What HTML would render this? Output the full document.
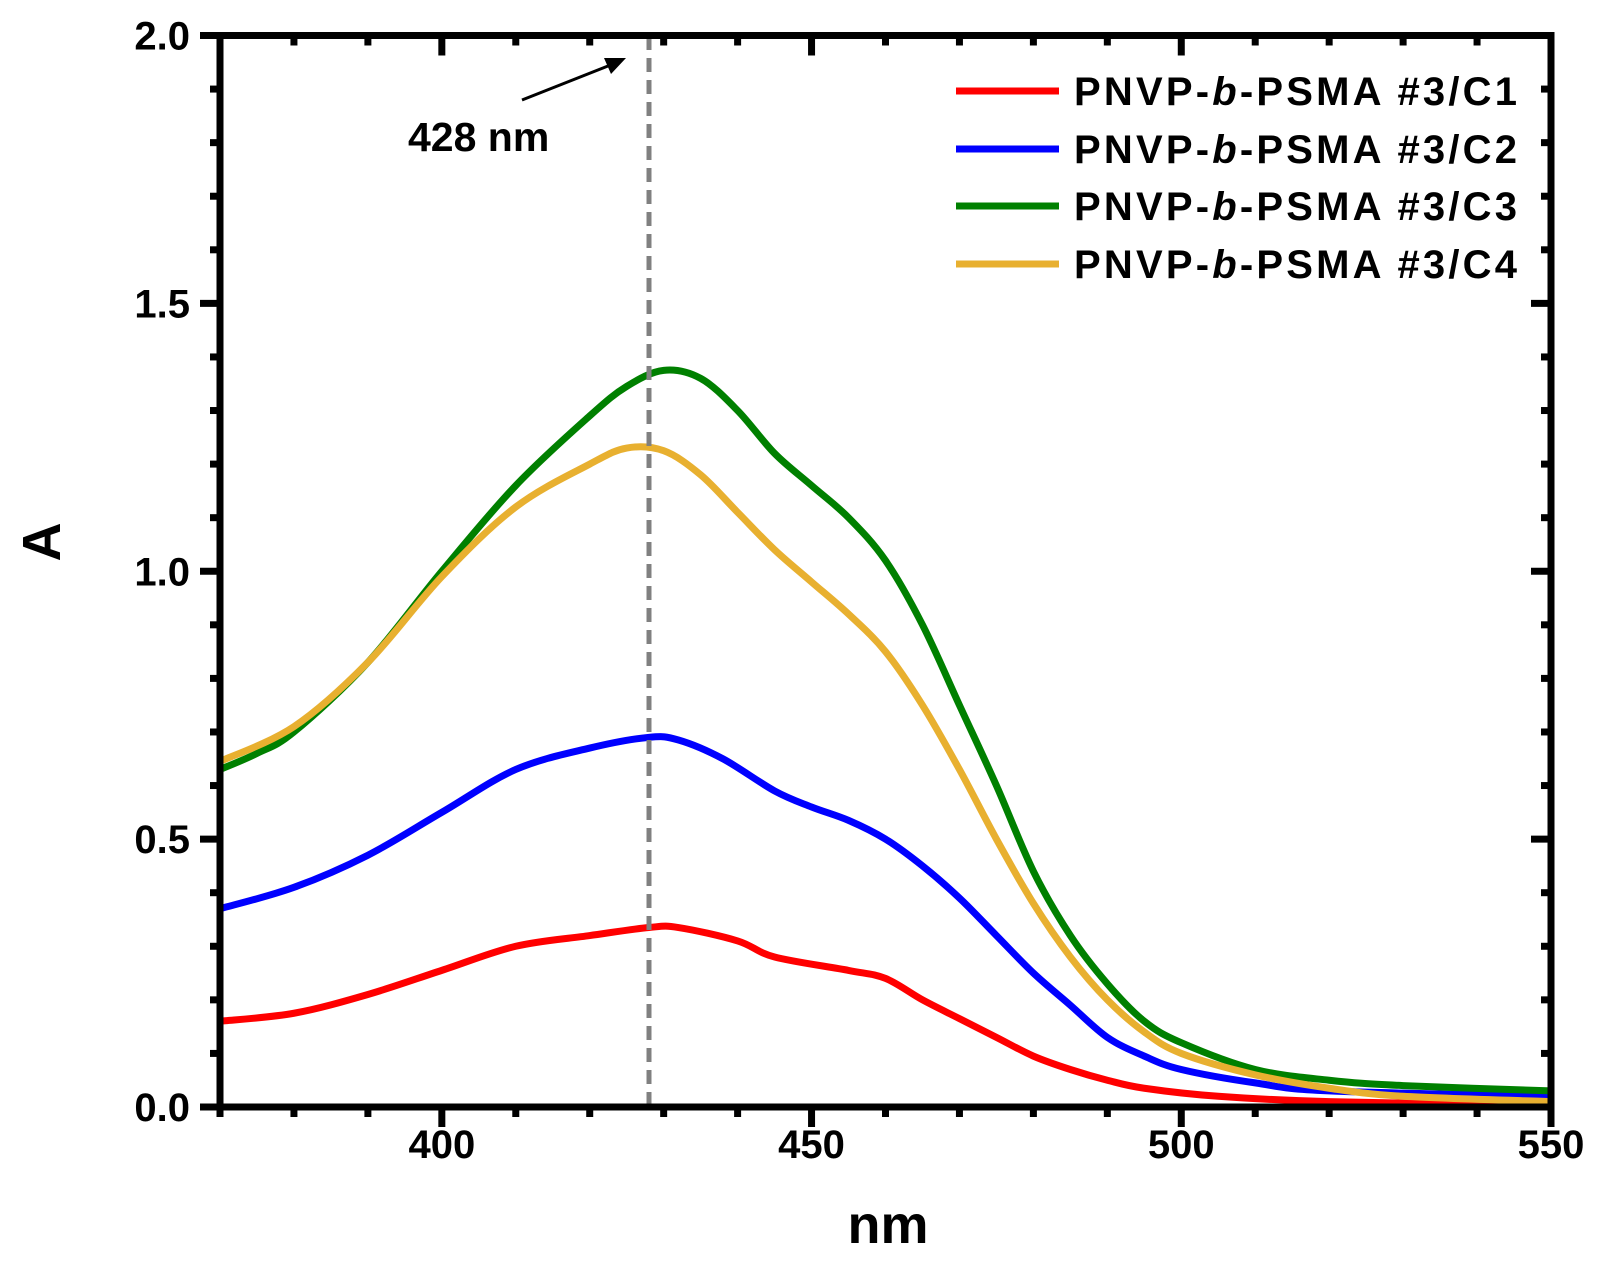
<!DOCTYPE html>
<html><head><meta charset="utf-8"><style>body{margin:0;background:#fff}svg{display:block}</style></head>
<body>
<svg id="s" width="1601" height="1285" xmlns="http://www.w3.org/2000/svg" font-family="Liberation Sans, Arial, sans-serif" font-weight="bold">
<g id="curves" fill="none" stroke-width="7" stroke-linejoin="round" stroke-linecap="round"></g>
<line x1="649" y1="36" x2="649" y2="1107" stroke="#808080" stroke-width="5" stroke-dasharray="14,8"/>
<g id="ticks" stroke="#000"></g>
<rect x="220" y="35.5" width="1331" height="1071.5" fill="none" stroke="#000" stroke-width="7"/>
<line x1="522" y1="100" x2="608" y2="66" stroke="#000" stroke-width="3"/>
<polygon points="626,58 604,58 611,74" fill="#000"/>
<text x="408" y="151" font-size="41">428 nm</text>
<g id="labels" font-size="40"></g>
<text x="888" y="1243" font-size="54" text-anchor="middle">nm</text>
<text transform="translate(60,542) rotate(-90)" font-size="54" text-anchor="middle">A</text>
<g font-size="40" stroke-width="7">
<line x1="956" y1="91" x2="1059" y2="91" stroke="#ff0000"/>
<line x1="956" y1="149" x2="1059" y2="149" stroke="#0000ff"/>
<line x1="956" y1="206" x2="1059" y2="206" stroke="#008000"/>
<line x1="956" y1="264" x2="1059" y2="264" stroke="#e8b030"/>
<text x="1074" y="105" textLength="443">PNVP-<tspan font-style="italic">b</tspan>-PSMA #3/C1</text>
<text x="1074" y="163" textLength="443">PNVP-<tspan font-style="italic">b</tspan>-PSMA #3/C2</text>
<text x="1074" y="220" textLength="443">PNVP-<tspan font-style="italic">b</tspan>-PSMA #3/C3</text>
<text x="1074" y="278" textLength="443">PNVP-<tspan font-style="italic">b</tspan>-PSMA #3/C4</text>
</g>
</svg>
<script>
const X=v=>220+(v-370)*1331/180, Y=v=>1107-v*1071.5/2;
const data={
"#ff0000":[[370,.16],[380,.175],[390,.21],[400,.255],[410,.3],[420,.32],[428,.335],[432,.335],[440,.31],[445,.28],[455,.255],[460,.24],[465,.2],[470,.165],[475,.13],[480,.095],[485,.07],[490,.05],[495,.035],[505,.02],[520,.01],[550,.003]],
"#0000ff":[[370,.37],[380,.41],[390,.47],[400,.55],[410,.63],[420,.67],[428,.69],[432,.685],[438,.65],[445,.59],[450,.56],[455,.535],[460,.5],[465,.45],[470,.39],[475,.32],[480,.25],[485,.19],[490,.13],[495,.095],[500,.07],[510,.045],[520,.03],[550,.02]],
"#008000":[[370,.63],[375,.66],[380,.7],[390,.83],[400,1.0],[410,1.16],[420,1.29],[425,1.345],[430,1.375],[435,1.36],[440,1.3],[445,1.22],[450,1.16],[455,1.1],[460,1.02],[465,.9],[470,.75],[475,.6],[480,.44],[485,.32],[490,.23],[495,.16],[500,.12],[510,.07],[520,.05],[530,.04],[550,.03]],
"#e8b030":[[370,.645],[380,.71],[390,.83],[400,.99],[410,1.12],[420,1.2],[425,1.23],[430,1.225],[435,1.18],[440,1.11],[445,1.04],[450,.98],[455,.92],[460,.85],[465,.75],[470,.63],[475,.5],[480,.38],[485,.28],[490,.2],[495,.14],[500,.1],[510,.06],[520,.035],[530,.02],[550,.01]]};
const NS="http://www.w3.org/2000/svg";
function smooth(p){let d="M"+p[0].join(",");for(let i=0;i<p.length-1;i++){const a=p[i-1]||p[i],b=p[i],c=p[i+1],e=p[i+2]||c;
d+=` C${b[0]+(c[0]-a[0])/6},${b[1]+(c[1]-a[1])/6} ${c[0]-(e[0]-b[0])/6},${c[1]-(e[1]-b[1])/6} ${c[0]},${c[1]}`;}return d;}
const cg=document.getElementById("curves");
for(const k in data){const pa=document.createElementNS(NS,"path");pa.setAttribute("d",smooth(data[k].map(q=>[X(q[0]),Y(q[1])])));pa.setAttribute("stroke",k);cg.appendChild(pa);}
const tg=document.getElementById("ticks"),lg=document.getElementById("labels");
function L(x1,y1,x2,y2,w){const l=document.createElementNS(NS,"line");l.setAttribute("x1",x1);l.setAttribute("y1",y1);l.setAttribute("x2",x2);l.setAttribute("y2",y2);l.setAttribute("stroke-width",w);tg.appendChild(l);}
function T(x,y,s,a){const t=document.createElementNS(NS,"text");t.setAttribute("x",x);t.setAttribute("y",y);t.setAttribute("text-anchor",a);t.textContent=s;lg.appendChild(t);}
for(let v=370;v<=550;v+=10){const x=X(v),maj=v%50==0;L(x,1107,x,1107+(maj?20:10),7);L(x,35.5,x,35.5+(maj?20:10),7);if(maj)T(x,1158,v,"middle");}
for(let i=0;i<=20;i++){const y=Y(i/10),maj=i%5==0;L(220,y,220-(maj?20:10),y,7);L(1551,y,1551-(maj?20:10),y,7);if(maj)T(190,y+14,(i/10).toFixed(1),"end");}
</script>
</body></html>
